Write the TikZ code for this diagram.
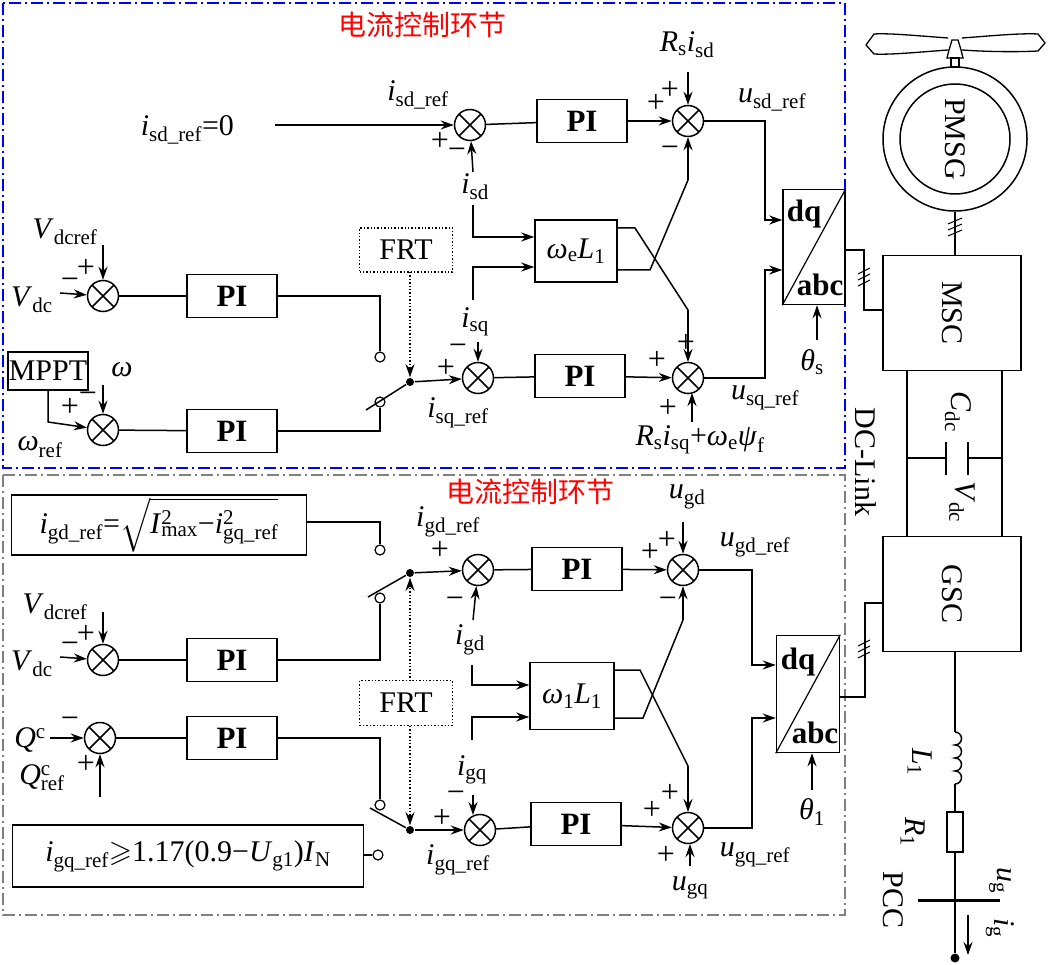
\documentclass[tikz,border=0pt]{standalone}
\usepackage{fontspec,amssymb}
\setmainfont{Liberation Serif}
\newfontfamily\cjk{Noto Sans CJK SC}
\usetikzlibrary{arrows.meta}
\newcommand\Ssub[1]{\textsubscript{#1}}
\newcommand\fs{\fontsize{30}{32}\selectfont}
\newcommand\fsb{\fontsize{31}{33}\selectfont\bfseries}
\begin{document}
\begin{tikzpicture}[x=1pt,y=-1pt,line width=1.5pt,
 ar/.style={-{Stealth[length=13pt,width=9pt]}},
 sum/.style={circle,draw,minimum size=31pt,inner sep=0pt,path picture={\draw ([shift={(45:16pt)}]path picture bounding box.center)--([shift={(225:16pt)}]path picture bounding box.center) ([shift={(135:16pt)}]path picture bounding box.center)--([shift={(-45:16pt)}]path picture bounding box.center);}},
 blk/.style={draw,inner sep=0pt,font=\fsb,minimum width=90pt,minimum height=43pt},
 box/.style={draw,inner sep=0pt,font=\fs},
 term/.style={circle,draw,minimum size=10pt,inner sep=0pt,line width=1.2pt,fill=white},
 lab/.style={inner sep=0pt,font=\fs},
 sg/.style={inner sep=0pt,font=\fontsize{32}{32}\selectfont},
 dots/.style={dotted,line width=1.4pt},
 rot/.style={rotate=-90}]
\useasboundingbox (0,0) rectangle (1048,965);
% frames
\draw[blue,line width=1.4pt,dash pattern=on 12pt off 4pt on 2pt off 4pt] (3,3) rectangle (845,468);
\draw[gray,line width=1.4pt,dash pattern=on 12pt off 4pt on 2pt off 4pt] (3,475) rectangle (845,915);
\node[text=red,font=\cjk\fontsize{28}{30}\selectfont] (t1) at (422,25) {电流控制环节};
\node[text=red,font=\cjk\fontsize{28}{30}\selectfont] (t2) at (530,492) {电流控制环节};

% ---------------- top ----------------
\node[lab,anchor=west] (isd0) at (140,130) {\textit{i}\Ssub{sd\_ref}=0};
\coordinate (c0) at (275,125);
\node[sum] (s1) at (470,125) {};
\node[blk] (pi1) at (582,121) {PI};
\node[sum] (s2) at (688,121) {};
\node[lab] (lisdref) at (418,95) {\textit{i}\Ssub{sd\_ref}};
\node[sg] at (440,141) {+}; \node[sg] at (457,154) {−};
\node[lab] (lisd) at (475,187) {\textit{i}\Ssub{sd}};
\node[lab] (lrsisd) at (687,45) {\textit{R}\Ssub{s}\textit{i}\Ssub{sd}};
\node[sg] at (656,103) {+}; \node[sg] at (670,90) {+}; \node[sg] at (670,152) {−};
\node[lab] (lusd) at (772,100) {\textit{u}\Ssub{sd\_ref}};
\draw[ar] (c0) -- (s1);
\draw (s1) -- (pi1);
\draw[ar] (pi1) -- (s2);
\draw[ar] (688,72) -- (s2);
\draw[ar] (473,172) -- (s1);

\node[box,minimum width=82pt,minimum height=62pt] (wl1) at (576,251) {\textit{ω}\Ssub{e}\textit{L}\Ssub{1}};
\node[box,font=\fsb,minimum width=62pt,minimum height=115pt] (dq1) at (814,247) {};
\draw[line width=1.2pt] (dq1.south west) -- (dq1.north east);
\node[lab,font=\fsb] at (804,214) {dq};
\node[lab,font=\fsb] at (820,285) {abc};
\draw[ar] (473,205) -- (473,237) -- (wl1.west|-0,237);
\draw[ar] (473,300) -- (473,267) -- (wl1.west|-0,267);
\draw (wl1.east|-0,228) -- (635,228) -- (688,310);
\draw[ar] (688,310) -- (688,362);
\draw (wl1.east|-0,270) -- (650,270) -- (688,180);
\draw[ar] (688,180) -- (s2);
\draw[ar] (s2) -- (765,121) -- (765,220) -- (dq1.west|-0,220);

\node[sum] (s3) at (478,378) {};
\node[blk] (pi2) at (580,376) {PI};
\node[sum] (s4) at (688,378) {};
\node[lab] (lisq) at (475,322) {\textit{i}\Ssub{sq}};
\draw[ar] (478,342) -- (s3);
\node[sg] at (458,350) {−}; \node[sg] at (446,368) {+};
\node[lab] (lisqref) at (458,413) {\textit{i}\Ssub{sq\_ref}};
\draw (s3) -- (pi2); \draw[ar] (pi2) -- (s4);
\node[sg] at (657,360) {+}; \node[sg] at (686,343) {+}; \node[sg] at (668,408) {+};
\draw[ar] (692,422) -- (692,393);
\node[lab] (lrsisq) at (700,440) {\textit{R}\Ssub{s}\textit{i}\Ssub{sq}+\textit{ω}\Ssub{e}\textit{ψ}\Ssub{f}};
\node[lab] (lusq) at (765,398) {\textit{u}\Ssub{sq\_ref}};
\draw[ar] (s4) -- (765,378) -- (765,270) -- (dq1.west|-0,270);
\draw[ar] (817,340) -- (dq1.south-|817,0);
\node[lab] (ths) at (812,362) {\textit{θ}\Ssub{s}};

% left top
\node[sum] (s5) at (103,296) {};
\node[lab] (lvdcref) at (65,232) {\textit{V}\Ssub{dcref}};
\draw[ar] (103,245) -- (s5);
\node[lab] (lvdc) at (32,300) {\textit{V}\Ssub{dc}};
\draw[ar] (60,293) -- (s5);
\node[sg] at (86,268) {+}; \node[sg] at (70,284) {−};
\node[blk] (pi3) at (232,296) {PI};
\draw (s5) -- (pi3);
\node[term] (tm1) at (380,357) {};
\draw (pi3) -- (380,296) -- (tm1);

\node[box,minimum width=80pt,minimum height=38pt] (mppt) at (48,371) {MPPT};
\node[lab] (lw) at (122,370) {\textit{ω}};
\node[sum] (s6) at (103,430) {};
\draw[ar] (103,385) -- (s6);
\draw[ar] (48,390) -- (48,422) -- (s6);
\node[lab] (lwref) at (40,447) {\textit{ω}\Ssub{ref}};
\node[sg] at (70,407) {+}; \node[sg] at (88,398) {−};
\node[blk] (pi4) at (232,431) {PI};
\draw (s6) -- (pi4);
\node[term] (tm2) at (380,402) {};
\draw (pi4) -- (380,431) -- (tm2);

\node[circle,fill,inner sep=0pt,minimum size=8pt] (pv1) at (410,382) {};
\draw (pv1) -- (366,410);
\draw[ar] (pv1) -- (s3);
\node[box,dots,minimum width=93pt,minimum height=44pt] (frt1) at (406,250) {FRT};
\draw[dots,ar] (410,272) -- (pv1);

% ---------------- bottom ----------------
\node[box,minimum width=295pt,minimum height=60pt] (igdbox) at (159,525) {\textit{i}\Ssub{gd\_ref}=$\sqrt{\mbox{\textit{I}\rlap{\textsuperscript{2}}\Ssub{max}−\textit{i}\rlap{\textsuperscript{2}}\Ssub{gq\_ref}}}$};
\node[term] (tm3) at (380,550) {};
\draw (igdbox.east|-0,522) -- (380,522) -- (tm3);

\node[sum] (s7) at (103,660) {};
\node[lab] (lvdcref2) at (55,607) {\textit{V}\Ssub{dcref}};
\draw[ar] (103,612) -- (s7);
\node[lab] (lvdc2) at (32,664) {\textit{V}\Ssub{dc}};
\draw[ar] (60,657) -- (s7);
\node[sg] at (86,634) {+}; \node[sg] at (70,648) {−};
\node[blk] (pi5) at (232,660) {PI};
\draw (s7) -- (pi5);
\node[term] (tm4) at (380,598) {};
\draw (pi5) -- (380,660) -- (tm4);

\node[sum] (s10) at (100,738) {};
\node[lab] (lqc) at (30,740) {\textit{Q}\textsuperscript{c}};
\draw[ar] (50,738) -- (s10);
\node[sg] at (70,723) {−};
\node[lab] (lqref) at (42,778) {\textit{Q}\rlap{\textsuperscript{c}}\Ssub{ref}};
\draw[ar] (100,797) -- (s10);
\node[sg] at (86,764) {+};
\node[blk] (pi6) at (232,738) {PI};
\draw (s10) -- (pi6);
\node[term] (tm5) at (380,805) {};
\draw (pi6) -- (380,738) -- (tm5);

\node[box,minimum width=351pt,minimum height=62pt] (igqbox) at (188,856) {\textit{i}\Ssub{gq\_ref}$\geqslant$1.17(0.9−\textit{U}\Ssub{g1})\textit{I}\Ssub{N}};
\node[term] (tm6) at (378,855) {};
\draw (igqbox.east|-0,855) -- (tm6);

\node[circle,fill,inner sep=0pt,minimum size=8pt] (pv2) at (410,573) {};
\draw (pv2) -- (368,597);
\node[circle,fill,inner sep=0pt,minimum size=8pt] (pv3) at (410,830) {};
\draw (pv3) -- (370,808);
\node[box,dots,minimum width=93pt,minimum height=45pt] (frt2) at (406,703) {FRT};
\draw[dots,ar] (410,681) -- (pv2);
\draw[dots,ar] (410,726) -- (pv3);

\node[sum] (s8) at (478,570) {};
\node[lab] (ligdref) at (448,522) {\textit{i}\Ssub{gd\_ref}};
\node[sg] at (440,550) {+}; \node[sg] at (455,603) {−};
\draw[ar] (pv2) -- (s8);
\draw[ar] (473,620) -- (s8);
\node[lab] (ligd) at (470,640) {\textit{i}\Ssub{gd}};
\node[blk] (pi7) at (577,569) {PI};
\node[sum] (s9) at (683,570) {};
\draw (s8) -- (pi7); \draw[ar] (pi7) -- (s9);
\node[lab] (lugd) at (687,497) {\textit{u}\Ssub{gd}};
\draw[ar] (683,522) -- (s9);
\node[sg] at (650,552) {+}; \node[sg] at (667,540) {+}; \node[sg] at (668,603) {−};
\node[lab] (lugdref) at (755,545) {\textit{u}\Ssub{gd\_ref}};

\node[box,minimum width=84pt,minimum height=67pt] (wl2) at (572,696) {\textit{ω}\Ssub{1}\textit{L}\Ssub{1}};
\draw[ar] (472,665) -- (472,685) -- (wl2.west|-0,685);
\draw[ar] (472,740) -- (472,717) -- (wl2.west|-0,717);
\draw (wl2.east|-0,670) -- (640,670) -- (688,766);
\draw[ar] (688,766) -- (688,812);
\draw (wl2.east|-0,718) -- (643,718) -- (683,620);
\draw[ar] (683,620) -- (s9);

\node[box,minimum width=63pt,minimum height=117pt] (dq2) at (808,694) {};
\draw[line width=1.2pt] (dq2.south west) -- (dq2.north east);
\node[lab,font=\fsb] at (798,662) {dq};
\node[lab,font=\fsb] at (815,733) {abc};
\draw[ar] (s9) -- (752,570) -- (752,665) -- (dq2.west|-0,665);

\node[sum] (s12) at (480,830) {};
\node[lab] (ligq) at (472,770) {\textit{i}\Ssub{gq}};
\draw[ar] (473,795) -- (473,815);
\node[sg] at (456,797) {−}; \node[sg] at (442,818) {+};
\draw[ar] (pv3) -- (s12);
\node[lab] (ligqref) at (458,860) {\textit{i}\Ssub{gq\_ref}};
\node[blk] (pi8) at (576,824) {PI};
\node[sum] (s11) at (688,828) {};
\draw (s12) -- (pi8); \draw[ar] (pi8) -- (s11);
\node[sg] at (652,810) {+}; \node[sg] at (670,793) {+}; \node[sg] at (666,855) {+};
\draw[ar] (690,866) -- (690,844);
\node[lab] (lugq) at (690,888) {\textit{u}\Ssub{gq}};
\node[lab] (lugqref) at (755,855) {\textit{u}\Ssub{gq\_ref}};
\draw[ar] (s11) -- (752,828) -- (752,718) -- (dq2.west|-0,718);
\draw[ar] (812,790) -- (dq2.south-|812,0);
\node[lab] (thl) at (812,812) {\textit{θ}\Ssub{1}};

% ---------------- right side ----------------
\draw[line width=1.3pt] (948,38) .. controls (920,36) and (890,33) .. (874,34) -- (866,45) -- (874,54) .. controls (890,55) and (920,52) .. (948,50);
\draw[line width=1.3pt] (962,38) .. controls (990,36) and (1020,33) .. (1038,34) -- (1045,43) -- (1038,51) .. controls (1020,52) and (990,52) .. (962,50);
\draw[line width=1.3pt,fill=white] (949,50) -- (952,40) -- (958,40) -- (961,50) -- (963,58) -- (947,58) -- cycle;
\draw[line width=1.3pt] (951,58) rectangle (959,67);
\node[circle,draw,minimum size=144pt,inner sep=0pt] (gen) at (955,139) {};
\node[circle,draw,minimum size=110pt,inner sep=0pt,rot,font=\fs] (gin) at (955,139) {PMSG};
\node[box,minimum width=138pt,minimum height=115pt] (msc) at (952,313) {};
\node[lab,rot] at (952,313) {MSC};
\draw (gen) -- (msc.north-|955,0);
\foreach \d in {-6,0,6} \draw[line width=1pt] (948,230+\d) -- (962,224+\d);
\draw (dq1.east|-0,250) -- (864,250) -- (864,310) -- (msc.west|-0,310);
\foreach \d in {-6,0,6} \draw[line width=1pt] (858,280+\d) -- (870,274+\d);
\node[box,minimum width=138pt,minimum height=115pt] (gsc) at (952,594) {};
\node[lab,rot] at (952,594) {GSC};
\draw (907,371) -- (907,537);
\draw (1002,371) -- (1002,537);
\draw (907,458) -- (946,458) (968,458) -- (1002,458);
\draw (946,442) -- (946,475) (968,442) -- (968,475);
\node[lab,rot] at (958,412) {\textit{C}\Ssub{dc}};
\node[lab,rot] at (962,502) {\textit{V}\Ssub{dc}};
\node[lab,rot] at (866,462) {DC-Link};
\draw (dq2.east|-0,697) -- (865,697) -- (865,603) -- (gsc.west|-0,603);
\foreach \d in {-6,0,6} \draw[line width=1pt] (858,652+\d) -- (870,646+\d);
\coordinate (l1a) at (955,732);
\draw (gsc.south-|955,0) -- (l1a);
\draw (l1a) arc[start angle=90,end angle=-90,radius=6.5pt] arc[start angle=90,end angle=-90,radius=6.5pt] arc[start angle=90,end angle=-90,radius=6.5pt] arc[start angle=90,end angle=-90,radius=6.5pt];
\node[draw,line width=1.2pt,minimum width=16pt,minimum height=40pt,inner sep=0pt] (r1) at (955,832) {};
\draw (955,784) -- (r1.north);
\node[circle,fill,inner sep=0pt,minimum size=9pt] (pcc) at (955,958) {};
\draw (r1.south) -- (pcc);
\draw[line width=3pt] (918,900) -- (1000,900);
\node[lab,rot] at (920,762) {\textit{L}\Ssub{1}};
\node[lab,rot] at (913,832) {\textit{R}\Ssub{1}};
\node[lab,rot] at (893,900) {PCC};
\node[lab,rot] at (1000,880) {\textit{u}\Ssub{g}};
\node[lab,rot] at (1000,928) {\textit{i}\Ssub{g}};
\draw[ar] (968,915) -- (968,955);
\end{tikzpicture}
\end{document}
